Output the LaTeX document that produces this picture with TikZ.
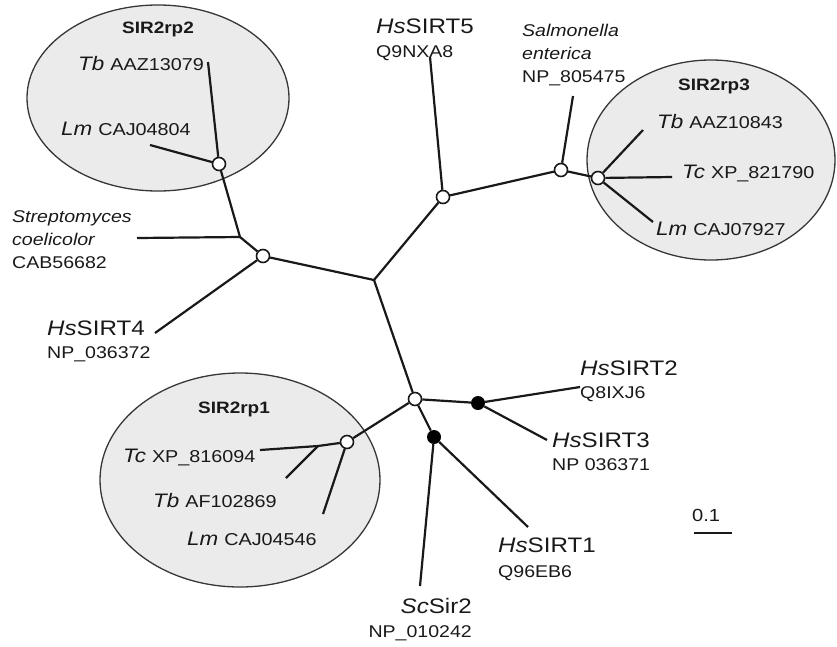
\documentclass[tikz,border=0pt]{standalone}
\usepackage{fontspec}
\setmainfont[FakeStretch=1.15]{Liberation Sans}
\newcommand{\fbig}{\fontsize{21}{25}\selectfont}
\newcommand{\facc}{\fontsize{17}{20}\selectfont}
\newcommand{\fsp}{\fontsize{19.5}{23}\selectfont}
\newcommand{\fel}{\fontsize{17.2}{20}\selectfont}
\newcommand{\fgrp}{\fontsize{16.5}{20}\selectfont\bfseries}
\newcommand{\gap}{\hspace{6pt}}
\definecolor{ellfill}{RGB}{235,235,235}
\definecolor{elldraw}{RGB}{55,55,55}
\definecolor{txt}{RGB}{25,25,25}
\tikzset{
  grp/.style={draw=elldraw, fill=ellfill, line width=1.3pt},
  br/.style={line width=2.2pt, black!90},
  opn/.style={circle, draw=black!90, fill=white, line width=1.6pt, minimum size=13pt, inner sep=0pt},
  fil/.style={circle, fill=black, minimum size=14pt, inner sep=0pt},
  lab/.style={anchor=base west, inner sep=0pt, text=txt},
  labr/.style={anchor=base east, inner sep=0pt, text=txt},
  labc/.style={anchor=base, inner sep=0pt, text=txt},
}
\begin{document}
\begin{tikzpicture}[x=1pt,y=-1pt]
\useasboundingbox (0,0) rectangle (837,646);
% group ellipses
\draw[grp] (158,98) ellipse [x radius=131, y radius=93];
\draw[grp] (711,160) ellipse [x radius=124, y radius=100];
\draw[grp] (240,480) ellipse [x radius=140, y radius=107];

% internal nodes
\coordinate (C) at (374,280);
\coordinate (S) at (240,237);
\coordinate (J1) at (318,446);
\node[opn] (A) at (263,256) {};
\node[opn] (R2) at (219,164) {};
\node[opn] (N5) at (443,197) {};
\node[opn] (Ns) at (561,170) {};
\node[opn] (R3) at (598,178) {};
\node[opn] (D) at (415,399) {};
\node[opn] (R1) at (347,442) {};
\node[fil] (E) at (478,403) {};
\node[fil] (F) at (434,437) {};

% leaf ends
\coordinate (Lhs4) at (155,333);
\coordinate (Lstrep) at (137,238);
\coordinate (Ltb2) at (208,62);
\coordinate (Llm2) at (150,145);
\coordinate (L5) at (430,57);
\coordinate (Lsal) at (573,96);
\coordinate (Ltb3) at (643,130);
\coordinate (Ltc3) at (672,177);
\coordinate (Llm3) at (653,222);
\coordinate (Ltc1) at (260,450);
\coordinate (Ltb1) at (286,478);
\coordinate (Llm1) at (323,514);
\coordinate (L2) at (580,387);
\coordinate (L3) at (547,440);
\coordinate (Lsc) at (420,586);
\coordinate (L1) at (528,527);

% branches
\draw[br] (C) -- (A);
\draw[br] (A) -- (S);
\draw[br] (A) -- (Lhs4);
\draw[br] (S) -- (Lstrep);
\draw[br] (S) -- (R2);
\draw[br] (R2) -- (Ltb2);
\draw[br] (R2) -- (Llm2);
\draw[br] (C) -- (N5);
\draw[br] (N5) -- (L5);
\draw[br] (N5) -- (Ns);
\draw[br] (Ns) -- (Lsal);
\draw[br] (Ns) -- (R3);
\draw[br] (R3) -- (Ltb3);
\draw[br] (R3) -- (Ltc3);
\draw[br] (R3) -- (Llm3);
\draw[br] (C) -- (D);
\draw[br] (D) -- (R1);
\draw[br] (R1) -- (J1) -- (Ltc1);
\draw[br] (J1) -- (Ltb1);
\draw[br] (R1) -- (Llm1);
\draw[br] (D) -- (E);
\draw[br] (E) -- (L2);
\draw[br] (E) -- (L3);
\draw[br] (D) -- (F);
\draw[br] (F) -- (Lsc);
\draw[br] (F) -- (L1);

% group labels
\node[labc, font=\fgrp] (g2) at (158,33) {SIR2rp2};
\node[labc, font=\fgrp] (g3) at (714,90) {SIR2rp3};
\node[labc, font=\fgrp] (g1) at (234,413) {SIR2rp1};

% SIR2rp2 members
\node[lab] (tb2) at (78,70) {{\fsp\itshape Tb}\gap{\fel AAZ13079}};
\node[lab] (lm2) at (61,135) {{\fsp\itshape Lm}\gap{\fel CAJ04804}};
% Streptomyces
\node[lab, font=\facc\itshape] (st1) at (12,222) {Streptomyces};
\node[lab, font=\facc\itshape] (st2) at (12,245) {coelicolor};
\node[lab, font=\facc] (st3) at (12,268) {CAB56682};
% HsSIRT4
\node[lab, font=\fbig] (h4a) at (47,335) {\textit{Hs}SIRT4};
\node[lab, font=\facc] (h4b) at (47,358) {NP\_036372};
% HsSIRT5
\node[lab, font=\fbig] (h5a) at (376,33) {\textit{Hs}SIRT5};
\node[lab, font=\facc] (h5b) at (376,57) {Q9NXA8};
% Salmonella
\node[lab, font=\facc\itshape] (sa1) at (522,36) {Salmonella};
\node[lab, font=\facc\itshape] (sa2) at (522,59) {enterica};
\node[lab, font=\facc] (sa3) at (522,82) {NP\_805475};
% SIR2rp3 members
\node[lab] (tb3) at (657,128) {{\fsp\itshape Tb}\gap{\fel AAZ10843}};
\node[lab] (tc3) at (682,178) {{\fsp\itshape Tc}\gap{\fel XP\_821790}};
\node[lab] (lm3) at (656,235) {{\fsp\itshape Lm}\gap{\fel CAJ07927}};
% SIR2rp1 members
\node[lab] (tc1) at (123,462) {{\fsp\itshape Tc}\gap{\fel XP\_816094}};
\node[lab] (tb1) at (153,507) {{\fsp\itshape Tb}\gap{\fel AF102869}};
\node[lab] (lm1) at (187,545) {{\fsp\itshape Lm}\gap{\fel CAJ04546}};
% HsSIRT2, 3, 1, ScSir2
\node[lab, font=\fbig] (h2a) at (580,375) {\textit{Hs}SIRT2};
\node[lab, font=\facc] (h2b) at (580,398) {Q8IXJ6};
\node[lab, font=\fbig] (h3a) at (552,447) {\textit{Hs}SIRT3};
\node[lab, font=\facc] (h3b) at (552,470) {NP 036371};
\node[lab, font=\fbig] (h1a) at (498,552) {\textit{Hs}SIRT1};
\node[lab, font=\facc] (h1b) at (498,577) {Q96EB6};
\node[labr, font=\fbig] (sca) at (472,613) {\textit{Sc}Sir2};
\node[labr, font=\facc] (scb) at (472,637) {NP\_010242};

% scale bar
\node[lab, font=\fontsize{17.5}{21}\selectfont] (sc01) at (692,521) {0.1};
\coordinate (sb1) at (694,533);
\coordinate (sb2) at (732,533);
\draw[line width=2pt, black!90] (sb1) -- (sb2);
\end{tikzpicture}
\end{document}
